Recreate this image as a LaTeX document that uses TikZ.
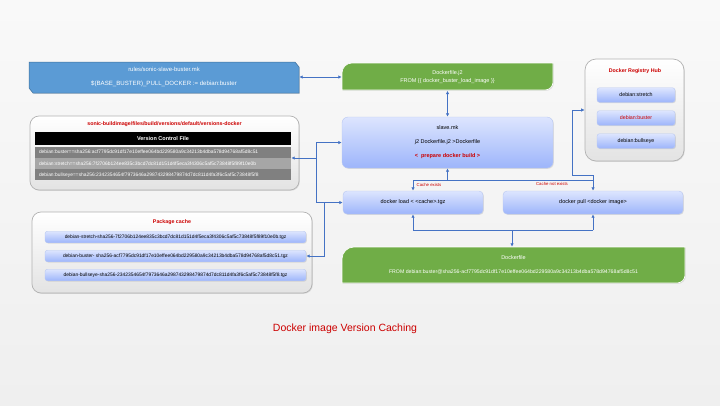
\documentclass[tikz,border=0pt]{standalone}
\usepackage{fontspec}
\setmainfont{Liberation Sans}
\usetikzlibrary{arrows.meta,shadows}
\definecolor{connc}{HTML}{4472C4}
\definecolor{bluef}{HTML}{5B9BD5}
\definecolor{blued}{HTML}{41719C}
\definecolor{greenf}{HTML}{70AD47}
\definecolor{gtop}{HTML}{DDE5FE}
\definecolor{gbot}{HTML}{9DB5FB}
\definecolor{gbord}{HTML}{B8C8F2}
\definecolor{redt}{HTML}{CC0000}
\definecolor{rowd}{HTML}{808080}
\definecolor{rowl}{HTML}{A6A6A6}
\definecolor{bgtop}{HTML}{F9F9F9}
\definecolor{bgbot}{HTML}{EFEFEF}
\newcommand\myfs[1]{\fontsize{#1}{#1}\selectfont}
\begin{document}
\begin{tikzpicture}[x=1pt,y=-1pt,
  conn/.style={draw=connc, line width=0.8pt},
  arr/.style={conn, -{Latex[length=3.5pt,width=3.5pt]}},
  darr/.style={conn, {Latex[length=3.5pt,width=3.5pt]}-{Latex[length=3.5pt,width=3.5pt]}},
  shad/.style={drop shadow={shadow xshift=0.8pt, shadow yshift=-0.8pt, opacity=0.22}},
  gradbox/.style={rounded corners=4pt, top color=gtop, bottom color=gbot, draw=gbord, line width=0.4pt, shad, align=center, font=\myfs{5.5pt}, inner sep=0pt},
  greybox/.style={rounded corners=9pt, top color=white, bottom color=gray!22, draw=gray!60, line width=0.7pt, shad},
  redtitle/.style={text=redt, font=\bfseries\myfs{5.3pt}, inner sep=0pt},
  redsmall/.style={text=redt, font=\myfs{4.3pt}, inner sep=0pt},
  wtxt/.style={text=white, align=center, font=\myfs{5.5pt}, inner sep=0pt},
  rowbox/.style={text=white, font=\myfs{4.9pt}, text width=248pt, align=left, inner xsep=4pt, inner ysep=0pt, minimum height=11.3pt},
  pkbox/.style={gradbox, rounded corners=2.5pt, minimum width=261pt, minimum height=11.5pt, font=\myfs{4.9pt}},
  hubbox/.style={gradbox, rounded corners=2.5pt, minimum width=78pt, minimum height=14.5pt, font=\myfs{5.3pt}}
]
\fill[top color=bgtop, bottom color=bgbot] (0,0) rectangle (720,405);
\useasboundingbox (0,0) rectangle (720,405);

% rules box (chamfered)
\fill[bluef, draw=blued, line width=0.5pt, shad] (29,62) -- (295,62) -- (299,67) -- (299,93) -- (33,93) -- (29,88) -- cycle;
\node[wtxt, minimum width=270pt, minimum height=31pt] (rules) at (164,77) {{\myfs{5.9pt}rules/sonic-slave-buster.mk}\\[8pt]{\myfs{6.1pt}\$(BASE\_BUSTER)\_PULL\_DOCKER := debian:buster}};

% Dockerfile.j2
\fill[greenf, draw=white, line width=0.6pt, shad] (342,76) [rounded corners=10pt] -- (342,63) -- (450,63) [sharp corners] -- (553,63) -- (553,76) [rounded corners=8pt] -- (553,90) -- (450,90) [sharp corners] -- (342,90) -- cycle;
\node[wtxt, minimum width=211pt, minimum height=27pt] (j2) at (447.5,77) {Dockerfile.j2\\[2.5pt]FROM \{\{ docker\_buster\_load\_image \}\}};

% slave.mk
\node[gradbox, rounded corners=6pt, minimum width=211pt, minimum height=51pt] (slave) at (447.5,142.5) {slave.mk\\[8.5pt]j2 Dockerfile.j2 >Dockerfile\\[8.5pt]\textcolor{redt}{\bfseries <\ \ prepare docker build >}};

% docker load / pull
\node[gradbox, minimum width=140pt, minimum height=23pt] (dload) at (413,202.5) {docker load < <cache>.tgz};
\node[gradbox, minimum width=180pt, minimum height=23pt] (dpull) at (593,202.5) {docker pull <docker image>};

% Dockerfile
\fill[greenf, draw=white, line width=0.6pt, shad] (342,265) [rounded corners=12pt] -- (342,247) -- (500,247) [sharp corners] -- (685,247) -- (685,265) [rounded corners=8pt] -- (685,283) -- (500,283) [sharp corners] -- (342,283) -- cycle;
\node[wtxt, minimum width=343pt, minimum height=36pt] (dfile) at (513.5,265) {Dockerfile\\[9pt]{\myfs{5.2pt}FROM debian:buster@sha256-acf7795dc91df17e10effee064bd229580a9c34213b4dba578d94768af5d8c51}};

% Docker Registry Hub
\node[greybox, rounded corners=11pt, minimum width=99pt, minimum height=102pt] (hub) at (634.5,110) {};
\node[redtitle] (hubt) at (635,71) {Docker Registry Hub};
\node[hubbox] (h1) at (636,95) {debian:stretch};
\node[hubbox, text=redt] (h2) at (636,118) {debian:buster};
\node[hubbox] (h3) at (636,141) {debian:bullseye};

% Version control file
\node[greybox, minimum width=269pt, minimum height=74pt] (vcf) at (164.5,153) {};
\node[redtitle] (vcft) at (164.5,124) {sonic-buildimage/files/build/versions/default/versions-docker};
\node[fill=black, text=white, font=\bfseries\myfs{5.5pt}, minimum width=256pt, minimum height=13pt, inner sep=0pt] (vhead) at (163,138.5) {Version Control File};
\node[rowbox, fill=rowd] (r1) at (163,152.2) {debian:buster==sha256:acf7795dc91df17e10effee064bd229580a9c34213b4dba578d94768af5d8c51};
\node[rowbox, fill=rowl] (r2) at (163,163.5) {debian:stretch==sha256:7f2706b124ee835c3bcd7dc81d151d4f5eca3f4306c5af5c73848f5f89f10e0b};
\node[rowbox, fill=rowd] (r3) at (163,174.8) {debian:bullseye==sha256:2342354654f7973646a298743298479874d7dc811d4fa3f6c5af5c73848f5f8};

% Package cache
\node[greybox, minimum width=280pt, minimum height=81pt] (pkg) at (172,252.5) {};
\node[redtitle] (pkgt) at (172,222) {Package cache};
\node[pkbox] (p1) at (175.5,237) {debian-stretch-sha256-7f2706b124ee835c3bcd7dc81d151d4f5eca3f4306c5af5c73848f5f89f10e0b.tgz};
\node[pkbox] (p2) at (175.5,256) {debian-buster- sha256-acf7795dc91df17e10effee064bd229580a9c34213b4dba578d94768af5d8c51.tgz};
\node[pkbox] (p3) at (175.5,275) {debian-bullseye-sha256-2342354654f7973646a298743298479874d7dc811d4fa3f6c5af5c73848f5f8.tgz};

% connectors
\coordinate (jv) at (316,158);
\coordinate (jp) at (324,202.5);
\draw[darr] (rules.east) -- (rules.east -| j2.west);
\draw[darr] (j2.south) -- (slave.north);
\draw[arr] (jv) -- (jv -| r2.east);
\draw[arr] (jv) |- (slave.west);
\draw[arr] (jv) |- (dload.west);
\draw[arr] (jp) |- (p2.east);

\coordinate (sb) at (447.5,180);
\draw[arr] (sb) -- (slave.south);
\draw[conn] (dload.north |- sb) -- (dpull.north |- sb);
\draw[arr] (dload.north |- sb) -- (dload.north);
\draw[arr] (dpull.north |- sb) -- (dpull.north);
\coordinate (hx) at (572,175);
\draw[arr] (dpull.north |- sb) |- (hx) |- (hub.west);
\node[redsmall] (ce) at (429,185) {Cache exists};
\node[redsmall] (cne) at (552,184) {Cache not exists};

\coordinate (db) at (512,230);
\draw[conn] (dload.south |- db) -- (dpull.south |- db);
\draw[arr] (dload.south |- db) -- (dload.south);
\draw[arr] (dpull.south |- db) -- (dpull.south);
\draw[arr] (db) -- (db |- dfile.north);

% caption
\node[text=redt, font=\myfs{10.5pt}, inner sep=0pt] (cap) at (345,329) {Docker image Version Caching};
\end{tikzpicture}
\end{document}
